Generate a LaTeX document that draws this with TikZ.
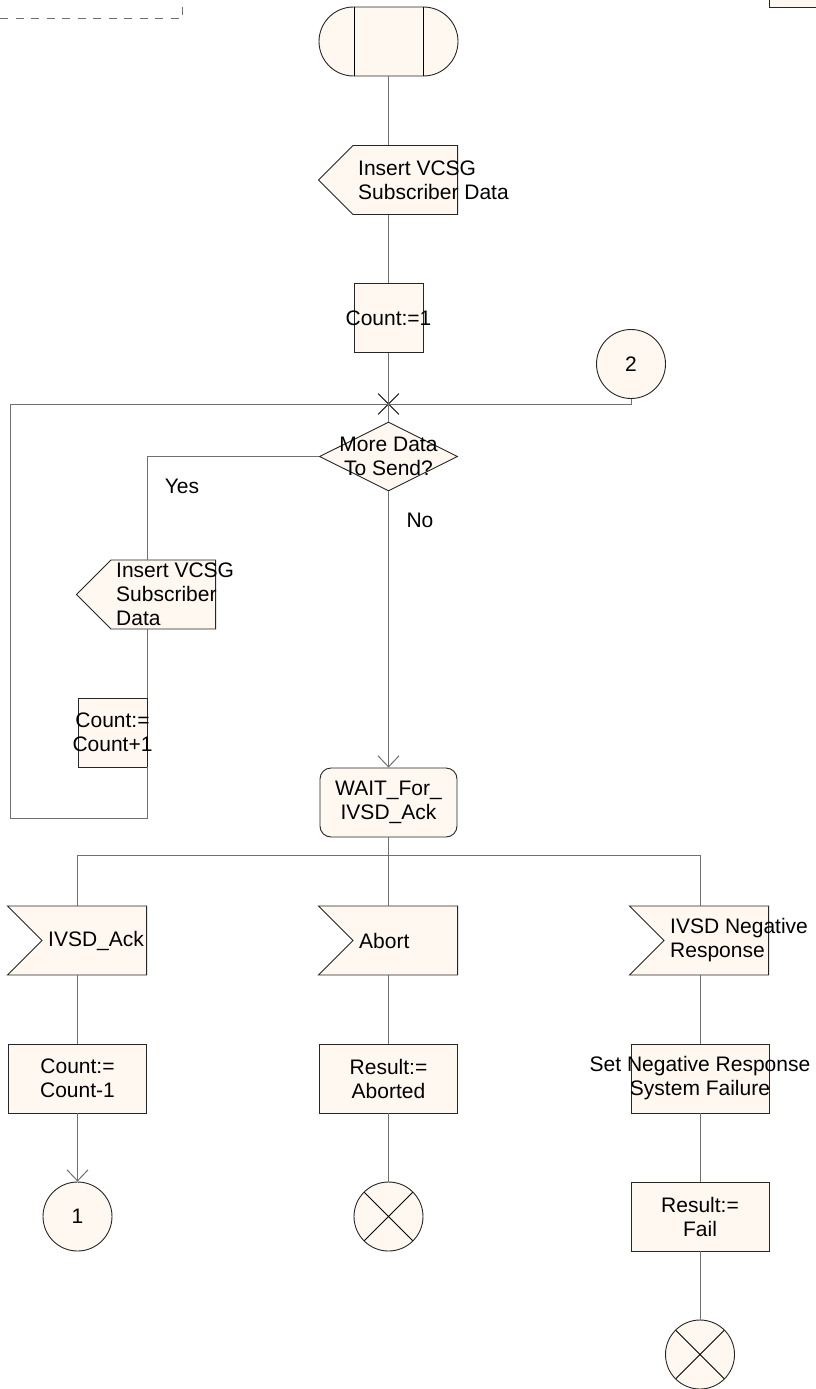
\documentclass[tikz,border=0pt]{standalone}
\usepackage{fontspec}
\setmainfont{Liberation Sans}
\usetikzlibrary{shapes.geometric,shapes.symbols,shapes.misc,arrows.meta}
\definecolor{paper}{RGB}{255,248,240}
\definecolor{wire}{RGB}{112,112,112}
\tikzset{
  sdl/.style={draw=black!85, fill=paper, line width=0.9pt, inner sep=0pt},
  txt/.style={font=\fontsize{21}{24}\selectfont, inner sep=0pt, align=center},
  sigtxt/.style={txt, anchor=west, align=left},
  task/.style={sdl, rectangle, minimum width=#1, minimum height=69pt},
  task/.default=138pt,
  sendsig/.style={sdl, signal, signal to=west, minimum width=139pt, minimum height=69pt, anchor=east},
  recvsig/.style={sdl, signal, signal to=nowhere, signal from=west, minimum width=139pt, minimum height=69pt, anchor=east},
  waitstate/.style={sdl, rectangle, rounded corners=11pt, minimum width=137pt, minimum height=69pt},
  decision/.style={sdl, diamond, aspect=2, minimum width=138pt, minimum height=69pt},
  joint/.style={sdl, circle, minimum size=69pt},
  stopsym/.style={joint, path picture={
      \draw[black] (path picture bounding box.north west) -- (path picture bounding box.south east)
                   (path picture bounding box.north east) -- (path picture bounding box.south west);}},
  link/.style={draw=wire, line width=1pt},
  flow/.style={link, -{Straight Barb[length=11pt,width=21pt]}}
}
\begin{document}
\begin{tikzpicture}[x=1pt, y=-1pt]
\useasboundingbox (0,0) rectangle (815,1389);
% page frame pieces
\draw[wire, line width=1pt, dash pattern=on 8pt off 7.5pt] (0,19) -- (182,19) -- (182,-2);
\draw[sdl] (769,-5) rectangle (830,7);

% main column
\node[sdl, rounded rectangle, minimum width=139pt, minimum height=69pt] (start) at (388.5,41.5) {};
\draw[black, line width=0.9pt] ([xshift=-34.5pt]start.north) -- ([xshift=-34.5pt]start.south)
                               ([xshift=34.5pt]start.north) -- ([xshift=34.5pt]start.south);
\node[sendsig] (insA) at (458,180) {};
\node[sigtxt] (insAtxt) at ([xshift=-100pt]insA.east) {Insert VCSG\\Subscriber Data};
\node[task=69pt] (cnt1) at (388.5,318) {};
\node[txt] (cnt1txt) at (cnt1.center) {Count:=1};
\node[joint] (conn2) at (631,364) {};
\node[txt] (conn2txt) at (conn2.center) {2};
\node[draw=black, cross out, minimum size=20pt, inner sep=0pt, line width=0.8pt] (jn) at (388.5,404) {};
\node[decision] (dec) at (388.5,456.5) {};
\node[txt] (dectxt) at (dec.center) {More Data\\To Send?};
\node[txt] (yes) at (182,486) {Yes};
\node[txt] (no) at (420,520) {No};

% yes branch
\coordinate (yescol) at (147,456.5);
\node[sendsig] (insB) at (216,594.5) {};
\node[sigtxt] (insBtxt) at ([xshift=-100pt]insB.east) {Insert VCSG\\Subscriber\\Data};
\node[task=69pt] (cnt2) at (112.5,732.5) {};
\node[txt] (cnt2txt) at (cnt2.center) {Count:=\\Count+1};
\coordinate (loop) at (10,818);

\node[waitstate] (wait) at (388.5,802.5) {};
\node[txt] (waittxt) at (wait.center) {WAIT\_For\_\\IVSD\_Ack};
\coordinate (br) at (388.5,855);

% inputs
\node[recvsig] (inAck) at (147,940.5) {};
\node[sigtxt] (inAcktxt) at ([xshift=-99pt]inAck.east) {IVSD\_Ack};
\node[recvsig] (inAbort) at (458,940.5) {};
\node[sigtxt] (inAborttxt) at ([xshift=-99pt]inAbort.east) {Abort};
\node[recvsig] (inNeg) at (769,940.5) {};
\node[sigtxt] (inNegtxt) at ([xshift=-99pt]inNeg.east) {IVSD Negative\\Response};

% results
\node[task] (cnt3) at (77.5,1078.5) {};
\node[txt] (cnt3txt) at (cnt3.center) {Count:=\\Count-1};
\node[task] (abrt) at (388.5,1078.5) {};
\node[txt] (abrttxt) at (abrt.center) {Result:=\\Aborted};
\node[task] (setneg) at (700,1078.5) {};
\node[txt] (setnegtxt) at (setneg.center) {Set Negative Response\\System Failure};
\node[joint] (conn1) at (77.5,1216.5) {};
\node[txt] (conn1txt) at (conn1.center) {1};
\node[stopsym] (stopA) at (388.5,1216.5) {};
\node[task] (fail) at (700,1216.5) {};
\node[txt] (failtxt) at (fail.center) {Result:=\\Fail};
\node[stopsym] (stopB) at (700,1354.5) {};

% connectors
\draw[link] (start) -- (start |- insA.north);
\draw[link] (start |- insA.south) -- (cnt1);
\draw[link] (cnt1) -- (dec);
\draw[link] (conn2) |- (jn.center);
\draw[link] (dec.west) -| (yescol |- insB.north);
\draw[link] (yescol |- insB.south) -- (yescol |- cnt2.north);
\draw[link] (yescol |- cnt2.south) |- (loop) |- (jn.center);
\draw[flow] (dec) -- (wait);
\draw[link] (wait) -- (br);
\draw[link] (cnt3 |- inAck.north) |- (br) -| (setneg |- inNeg.north);
\draw[link] (br) -- (abrt |- inAbort.north);
\draw[link] (cnt3 |- inAck.south) -- (cnt3);
\draw[flow] (cnt3) -- (conn1);
\draw[link] (abrt |- inAbort.south) -- (abrt);
\draw[link] (abrt) -- (stopA);
\draw[link] (setneg |- inNeg.south) -- (setneg);
\draw[link] (setneg) -- (fail);
\draw[link] (fail) -- (stopB);
\end{tikzpicture}
\end{document}
